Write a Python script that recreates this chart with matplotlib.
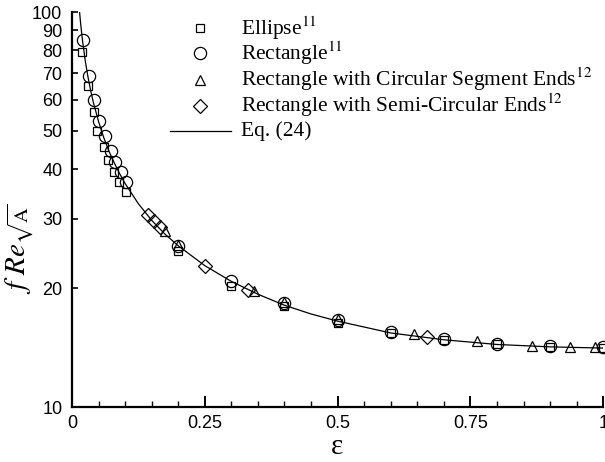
import matplotlib
matplotlib.use("Agg")
import matplotlib.pyplot as plt
from matplotlib.ticker import FixedLocator, NullLocator, MultipleLocator

plt.rcParams['mathtext.fontset'] = 'stix'

# ---- data ----
ellipse_eps = [0.019, 0.031, 0.041, 0.048, 0.060, 0.068, 0.079, 0.0885, 0.101,
               0.2, 0.3, 0.4, 0.5, 0.6, 0.7, 0.8, 0.9, 1.0]
ellipse_f = [79.0, 64.8, 55.9, 50.0, 45.6, 42.1, 39.4, 37.2, 35.1,
             24.8, 20.3, 18.0, 16.3, 15.4, 14.8, 14.4, 14.2, 14.1]

rect_eps = [0.0213, 0.0326, 0.042, 0.0515, 0.0615, 0.0734, 0.0816, 0.0917, 0.1017,
            0.2, 0.3, 0.4, 0.5, 0.6, 0.7, 0.8, 0.9, 1.0]
rect_f = [84.8, 68.9, 59.8, 53.1, 48.6, 44.6, 41.7, 39.3, 37.1,
          25.6, 20.9, 18.3, 16.6, 15.5, 14.9, 14.4, 14.3, 14.2]

circseg_eps = [0.175, 0.2, 0.343, 0.4, 0.5, 0.643, 0.763, 0.866, 0.938, 0.985]
circseg_f = [27.9, 25.7, 19.7, 18.4, 16.7, 15.3, 14.7, 14.3, 14.2, 14.15]

semicirc_eps = [0.143, 0.155, 0.165, 0.25, 0.332, 0.669]
semicirc_f = [30.7, 29.6, 28.6, 22.8, 19.8, 15.0]

eq_eps = [0.014, 0.016, 0.018, 0.02, 0.025, 0.03, 0.035, 0.04, 0.05, 0.06, 0.07,
          0.08, 0.09, 0.1, 0.125, 0.15, 0.175, 0.2, 0.25, 0.3, 0.35, 0.4, 0.45,
          0.5, 0.6, 0.7, 0.8, 0.9, 1.0]
eq_f = [100.9, 94.3, 88.9, 84.3, 75.2, 68.6, 63.4, 59.2, 52.8, 48.0, 44.3,
        41.4, 38.9, 36.8, 32.7, 29.7, 27.4, 25.6, 22.8, 20.8, 19.3, 18.1, 17.2,
        16.5, 15.4, 14.8, 14.4, 14.2, 14.1]

x_ticks = [0, 0.25, 0.5, 0.75, 1]
x_ticklabels = ['0', '0.25', '0.5', '0.75', '1']
y_ticks = [10, 20, 30, 40, 50, 60, 70, 80, 90, 100]
y_ticklabels = ['10', '20', '30', '40', '50', '60', '70', '80', '90', '100']

legend_labels = ['Ellipse$^{11}$', 'Rectangle$^{11}$',
                 'Rectangle with Circular Segment Ends$^{12}$',
                 'Rectangle with Semi-Circular Ends$^{12}$',
                 'Eq. (24)']

# ---- figure ----
fig = plt.figure(figsize=(6.05, 4.62), dpi=100)
ax = fig.add_axes([0.119, 0.119, 0.878, 0.855])

ax.plot(eq_eps, eq_f, color='black', lw=0.9, zorder=2)
mk = dict(ls='none', mfc='none', mec='black', mew=0.9, zorder=3, clip_on=False)
ax.plot(ellipse_eps, ellipse_f, marker='s', ms=6.0, **mk)
ax.plot(rect_eps, rect_f, marker='o', ms=8.8, **mk)
ax.plot(circseg_eps, circseg_f, marker='^', ms=7.5, **mk)
ax.plot(semicirc_eps, semicirc_f, marker='D', ms=7.0, **mk)

ax.set_yscale('log')
ax.set_xlim(0, 1)
ax.set_ylim(10, 100)

for s in ['top', 'right']:
    ax.spines[s].set_visible(False)
for s in ['left', 'bottom']:
    ax.spines[s].set_linewidth(1.6)

ax.yaxis.set_major_locator(FixedLocator(y_ticks))
ax.yaxis.set_minor_locator(NullLocator())
ax.set_yticklabels(y_ticklabels)
ax.set_xticks(x_ticks)
ax.set_xticklabels(x_ticklabels)
ax.xaxis.set_minor_locator(MultipleLocator(0.05))

ax.tick_params(axis='x', which='major', direction='in', length=8, width=1.4, pad=6)
ax.tick_params(axis='x', which='minor', direction='in', length=4.5, width=1.0)
ax.tick_params(axis='y', which='major', direction='in', length=4, width=1.2, pad=7)
for lab in ax.get_xticklabels() + ax.get_yticklabels():
    lab.set_fontfamily('Liberation Sans')
    lab.set_fontsize(13)

ax.text(-0.098, 0.40, r'$f\ Re_{\sqrt{\mathrm{A}}}$', transform=ax.transAxes,
        rotation=90, ha='center', va='center', fontsize=21)
fig.text(0.557, 0.018, 'ε', ha='center', va='baseline', fontsize=21,
         family='Liberation Serif')

# ---- legend (drawn manually, as in the reference) ----
row_y = [0.960, 0.896, 0.829, 0.763, 0.698]
markers = [('s', 6.0), ('o', 8.8), ('^', 7.5), ('D', 7.0)]
for (m, ms), yy in zip(markers, row_y[:4]):
    ax.plot([0.241], [yy], marker=m, ms=ms, ls='none', mfc='none', mec='black',
            mew=0.9, transform=ax.transAxes, clip_on=False)
ax.plot([0.185, 0.300], [row_y[4], row_y[4]], color='black', lw=0.9,
        transform=ax.transAxes, clip_on=False)
for lab, yy in zip(legend_labels, row_y):
    ax.text(0.318, yy, lab, transform=ax.transAxes, ha='left', va='center',
            fontsize=15.5, family='Liberation Serif')

fig.savefig('out.png', dpi=100)
